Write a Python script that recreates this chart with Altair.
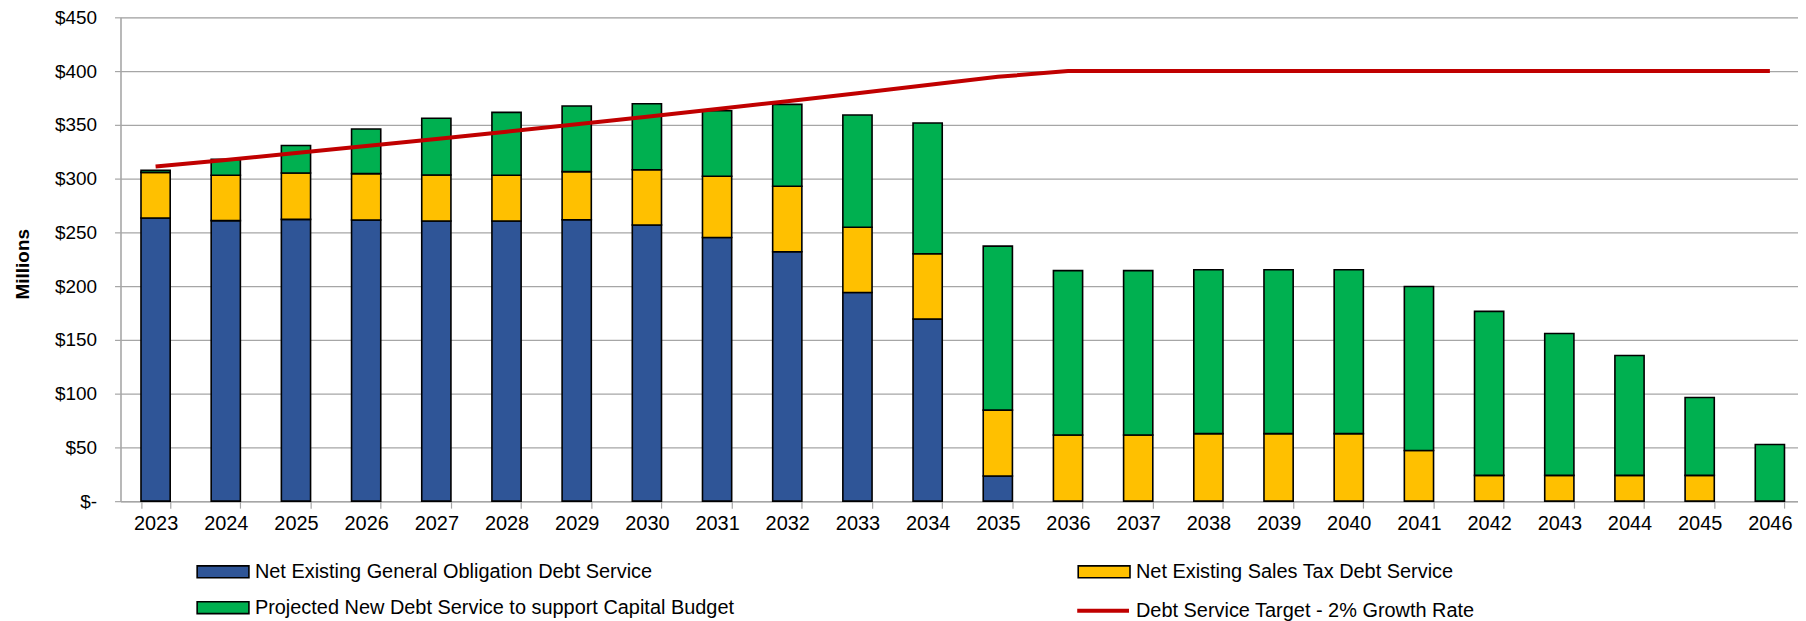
import altair as alt
import pandas as pd

years = ["2023", "2024", "2025", "2026", "2027", "2028", "2029", "2030",
         "2031", "2032", "2033", "2034", "2035", "2036", "2037", "2038",
         "2039", "2040", "2041", "2042", "2043", "2044", "2045", "2046"]

go_service = [263.3, 260.9, 262.1, 261.5, 260.6, 260.6, 261.8, 256.9,
              245.2, 231.9, 194.0, 169.4, 23.4, 0, 0, 0,
              0, 0, 0, 0, 0, 0, 0, 0]
sales_tax = [42.5, 42.2, 43.1, 43.1, 42.8, 42.5, 44.7, 51.4,
             57.0, 61.0, 60.7, 60.7, 61.3, 61.6, 61.6, 62.8,
             62.8, 62.8, 47.1, 24.0, 24.0, 24.0, 24.0, 0]
projected_new = [1.9, 14.8, 25.6, 41.6, 52.7, 58.5, 61.0, 61.3,
                 60.9, 76.1, 104.4, 121.6, 152.5, 152.8, 152.8, 152.5,
                 152.5, 152.5, 152.5, 152.5, 131.9, 111.5, 72.4, 52.7]
target = [311.2, 317.4, 323.8, 330.3, 336.9, 343.6, 350.5, 357.5,
          364.7, 372.0, 379.4, 387.0, 394.7, 400, 400, 400,
          400, 400, 400, 400, 400, 400, 400, 400]

S_GO = "Net Existing General Obligation Debt Service"
S_ST = "Net Existing Sales Tax Debt Service"
S_PN = "Projected New Debt Service to support Capital Budget"
S_TG = "Debt Service Target - 2% Growth Rate"

bar_series = [S_GO, S_ST, S_PN]
bar_colors = ["#2F5597", "#FFC000", "#00B050"]
line_color = "#C00000"

rows = []
for i, y in enumerate(years):
    for k, (s, vals) in enumerate(zip(bar_series, [go_service, sales_tax, projected_new])):
        if vals[i] > 0:
            rows.append({"year": y, "series": s, "value": vals[i], "k": k})
bar_df = pd.DataFrame(rows)
line_df = pd.DataFrame({"year": years, "series": [S_TG] * len(years), "value": target})

FONT = "Liberation Sans"
GRAY = "#A6A6A6"

x_enc = alt.X(
    "year:N",
    sort=years,
    scale=alt.Scale(range=[0, 1692], paddingInner=0.584, paddingOuter=0.292),
    axis=alt.Axis(
        title=None, labelAngle=0, labelFont=FONT, labelFontSize=20,
        labelColor="black", tickBand="extent", tickSize=7, tickColor=GRAY,
        tickWidth=1.2, domainColor=GRAY, domainWidth=1.5, labelPadding=5,
        grid=False,
    ),
)
y_enc = alt.Y(
    "value:Q",
    stack="zero",
    scale=alt.Scale(domain=[0, 450], nice=False),
    axis=alt.Axis(
        values=[0, 50, 100, 150, 200, 250, 300, 350, 400, 450],
        labelExpr="datum.value == 0 ? '$-' : '$' + datum.value",
        labelFont=FONT, labelFontSize=19, labelColor="black", labelPadding=18,
        tickSize=6, tickColor=GRAY, tickWidth=1.2, domainColor=GRAY,
        domainWidth=1.5, gridColor=GRAY, gridWidth=1.3,
        title="Millions", titleFont=FONT, titleFontSize=19,
        titleFontWeight="bold", titleColor="black",
        titleX=-98, titleY=247.5, titleBaseline="middle",
    ),
)

bars = alt.Chart(bar_df).mark_bar(stroke="black", strokeWidth=1.6).encode(
    x=x_enc,
    y=y_enc,
    color=alt.Color(
        "series:N",
        scale=alt.Scale(domain=bar_series, range=bar_colors),
        legend=alt.Legend(
            title=None, orient="none", legendX=89, legendY=543,
            direction="horizontal", columns=2, columnPadding=341,
            rowPadding=12, padding=0,
            labelFont=FONT, labelFontSize=20, labelColor="black",
            labelLimit=1000, labelOffset=18,
            symbolType="M-2,-0.46H2V0.46H-2Z", symbolSize=676,
            symbolStrokeColor="black", symbolStrokeWidth=1.6,
        ),
    ),
    order=alt.Order("k:Q"),
)

line = alt.Chart(line_df).mark_line(strokeWidth=4, strokeCap="butt").encode(
    x=x_enc,
    y=alt.Y("value:Q", stack=None),
    stroke=alt.Stroke(
        "series:N",
        scale=alt.Scale(domain=[S_TG], range=[line_color]),
        legend=alt.Legend(
            title=None, orient="none", legendX=972, legendY=581, padding=0,
            labelFont=FONT, labelFontSize=20, labelColor="black",
            labelLimit=1000, labelOffset=18,
            symbolType="M-2,0H2", symbolSize=676, symbolStrokeWidth=4,
        ),
    ),
)

chart = alt.layer(bars, line).properties(
    width=1685,
    height=486,
    autosize=alt.AutoSizeParams(type="none"),
    padding={"left": 113, "top": 8, "right": 0, "bottom": 119},
).configure_view(strokeWidth=0).configure(background="white")

chart.save("out.html", embed_options={"renderer": "svg", "actions": False})
